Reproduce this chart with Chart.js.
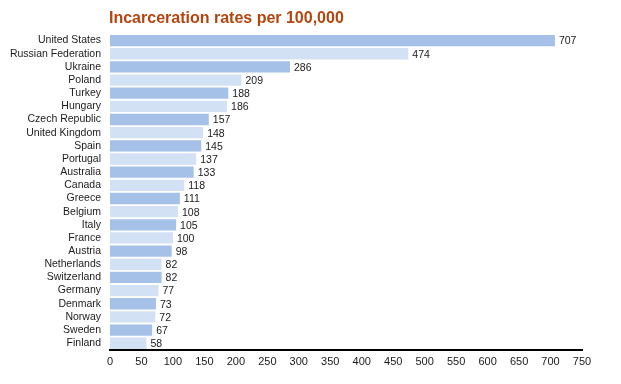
<!DOCTYPE html>
<html>
<head>
<meta charset="utf-8">
<script src="https://cdn.jsdelivr.net/npm/chart.js@4"></script>
<style>
  html, body { margin: 0; padding: 0; background: #fff; }
  #wrap { position: relative; width: 621px; height: 384px; }
</style>
</head>
<body>
<div id="wrap"><canvas id="chart"></canvas></div>
<script>
const countries = ['United States', 'Russian Federation', 'Ukraine', 'Poland', 'Turkey', 'Hungary',
  'Czech Republic', 'United Kingdom', 'Spain', 'Portugal', 'Australia', 'Canada', 'Greece', 'Belgium',
  'Italy', 'France', 'Austria', 'Netherlands', 'Switzerland', 'Germany', 'Denmark', 'Norway', 'Sweden', 'Finland'];
const rates = [707, 474, 286, 209, 188, 186, 157, 148, 145, 137, 133, 118, 111, 108, 105, 100, 98, 82, 82, 77, 73, 72, 67, 58];
const xTicks = [0, 50, 100, 150, 200, 250, 300, 350, 400, 450, 500, 550, 600, 650, 700, 750];
const title = 'Incarceration rates per 100,000';

const dark = '#a5c1e8', light = '#d3e1f4';
const font = "'Liberation Sans', Arial, sans-serif";

const labelsPlugin = {
  id: 'extras',
  afterDatasetsDraw(chart) {
    const ctx = chart.ctx;
    const meta = chart.getDatasetMeta(0);
    ctx.save();
    ctx.fillStyle = '#1a1a1a';
    ctx.font = '10.5px ' + font;
    ctx.textBaseline = 'middle';
    meta.data.forEach((bar, i) => {
      ctx.fillText(String(rates[i]), bar.x + 4, bar.y + 1);
    });
    ctx.fillStyle = '#b5450f';
    ctx.font = 'bold 16px ' + font;
    ctx.textBaseline = 'alphabetic';
    ctx.fillText(title, chart.chartArea.left - 1, 23);
    ctx.restore();
  }
};

new Chart(document.getElementById('chart'), {
  type: 'bar',
  data: {
    labels: countries,
    datasets: [{
      data: rates,
      backgroundColor: rates.map((_, i) => i % 2 === 0 ? dark : light),
      borderWidth: 0,
      barPercentage: 0.86,
      categoryPercentage: 1
    }]
  },
  options: {
    indexAxis: 'y',
    responsive: true,
    maintainAspectRatio: false,
    animation: false,
    layout: { padding: { top: 34, right: 39, left: 0, bottom: 9 } },
    plugins: { legend: { display: false }, tooltip: { enabled: false } },
    scales: {
      x: {
        min: 0, max: 750,
        afterBuildTicks: (s) => { s.ticks = xTicks.map(v => ({ value: v })); },
        grid: { display: false, drawTicks: false },
        border: { display: true, color: '#000', width: 2 },
        ticks: { color: '#1a1a1a', font: { family: font, size: 11 }, padding: 6, maxRotation: 0 }
      },
      y: {
        grid: { display: false, drawTicks: false },
        border: { display: false },
        afterFit: (s) => { s.width = 110; },
        ticks: { color: '#1a1a1a', font: { family: font, size: 10.5 }, padding: 9, autoSkip: false }
      }
    }
  },
  plugins: [labelsPlugin]
});
</script>
</body>
</html>
